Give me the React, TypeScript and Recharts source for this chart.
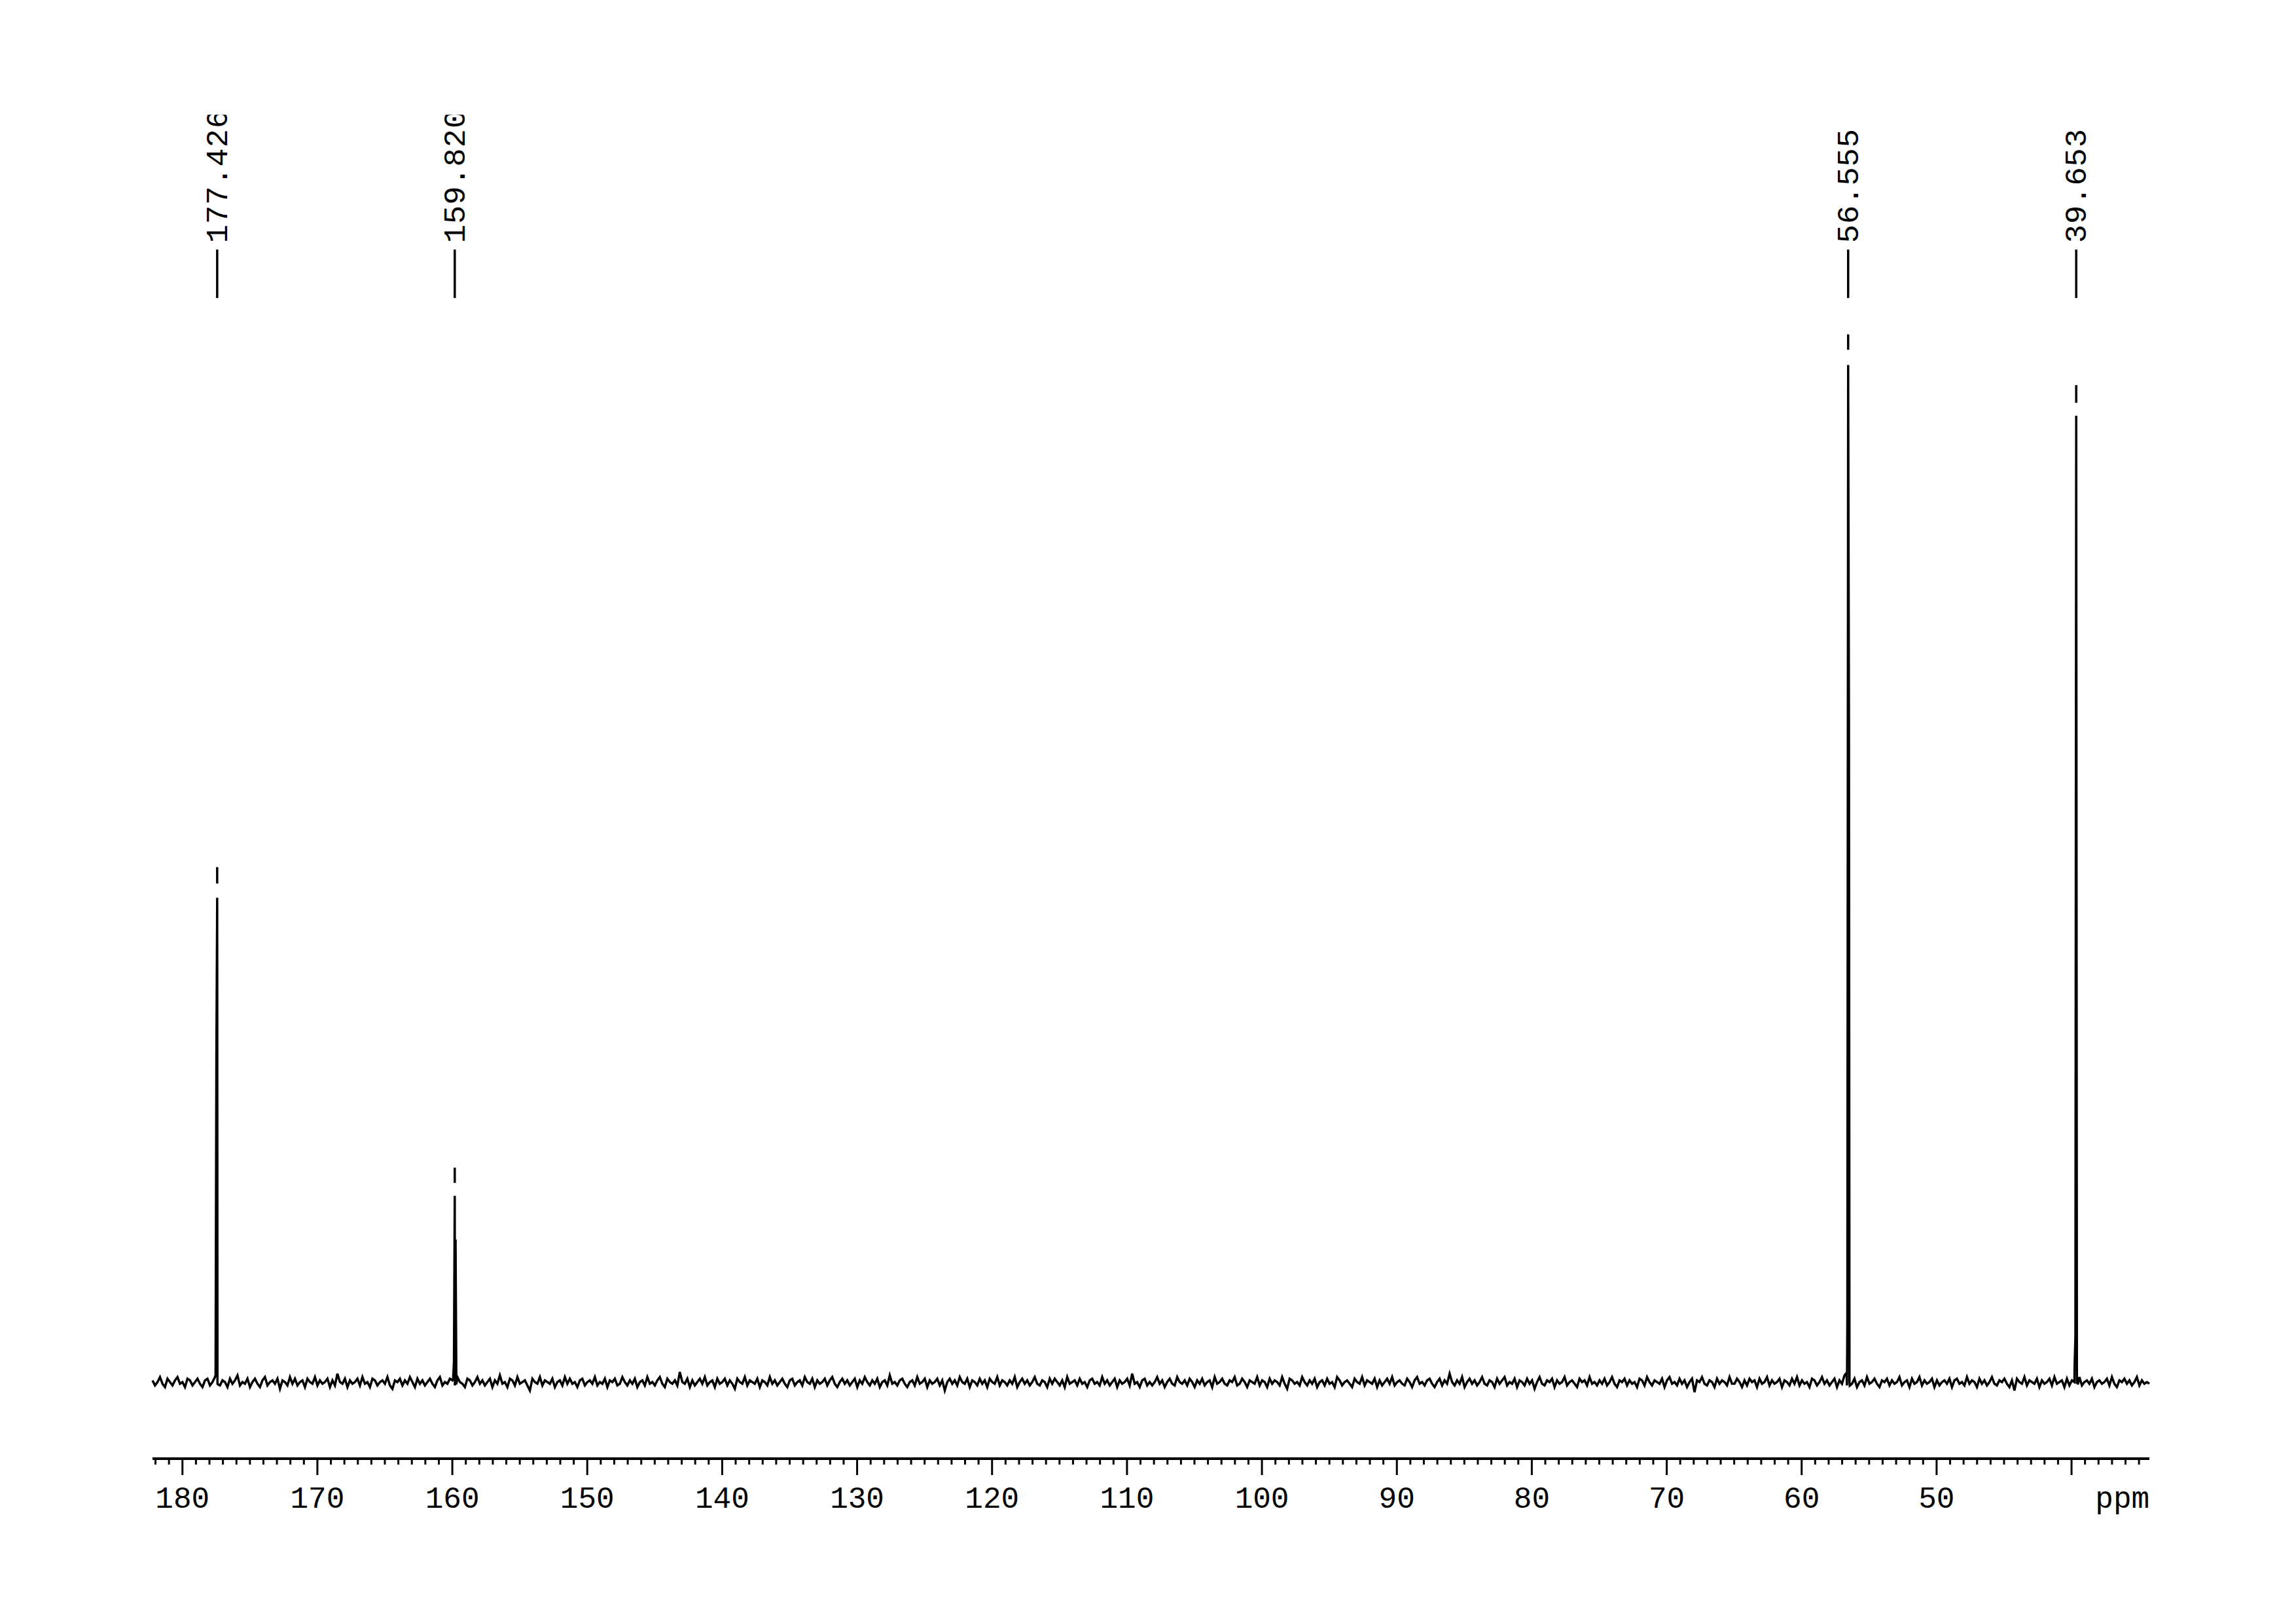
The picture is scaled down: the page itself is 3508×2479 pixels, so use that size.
import { ComposedChart, Line, Scatter, XAxis, YAxis } from 'recharts';

// picked peaks (ppm) and the numbers printed above them
const peakShifts = [177.426, 159.82, 56.555, 39.653];
const peakLabels = ['177.426', '159.820', '56.555', '39.653'];
// apex height of each peak (baseline = 0)
const peakTops = [41.1, 15.8, 86.3, 82.0];
// digital points next to the apex, higher-ppm side then lower-ppm side
const peakHighSide = [[0.6, 27.6], [0.3, 1.7], [0.8, 5.2], [1.3, 3.9]];
const peakLowSide = [[-0.2], [12.1, -0.2], [55.9, -0.3], [0.4, -0.2]];
// short plotter stroke left above every apex
const dashLow = [42.3, 16.9, 87.6, 83.1];
const dashHigh = [43.7, 18.2, 88.9, 84.6];
const labelTickTop = 96.1;

const xDomain = [34.23, 182.22];
const tickLabels = [180, 170, 160, 150, 140, 130, 120, 110, 100, 90, 80, 70, 60, 50];

// baseline noise, in steps of 1/7 unit, left (high ppm) to right
const noise = [
  1, -2, 0, 3, -1, -3, 2, 0, -2, 1, 3, -1, 0, -3, 2, 1, -2, 0, 2, -1,
  -3, 1, 2, -2, 0, 3, -1, -2, 1, 0, -3, 2, -1, 1, 4, -2, 0, -1, 2, -3,
  0, 2, -1, -3, 1, 3, -2, 0, 1, -1, 2, -4, 1, 0, -2, 3, -1, 2, -2, 0,
  1, -3, 2, 0, -1, 3, -2, 1, -1, 0, 2, -3, 1, -2, 5, 0, -1, 2, -3, 1,
  -1, 0, 2, -2, 3, -1, 0, -3, 2, 1, -2, 0, 1, -1, 3, -2, -4, 1, 0, 2,
  -2, 1, -1, 3, 0, -3, 2, -1, 1, -2, 0, 2, -1, -3, 1, 3, -2, 0, -1, 2,
  1, -2, 3, 0, -1, -3, 2, 1, -2, 0, 3, -1, 1, -2, 0, 2, -3, 1, -1, 4,
  -1, 0, -3, 2, 1, -2, 3, -1, 0, 1, -2, -5, 2, 0, -1, 3, -2, 1, 0, -1,
  2, -3, 0, 1, -2, 3, -1, 2, -1, 0, -3, 1, 2, -2, 0, 1, -1, 3, -2, 0,
  -1, 2, -3, 1, 0, 2, -2, -1, 3, 0, -2, 1, -1, 2, -3, 0, 1, -2, 3, -1,
  0, -2, 1, 3, -1, -3, 2, 0, -1, 1, -2, 6, 0, -1, 2, -3, 1, -2, 0, 2,
  -1, 3, -2, 0, 1, -3, 2, -1, 0, 2, -2, 1, -1, -4, 2, 0, -1, 3, -2, 1,
  0, -1, 2, -3, 1, 0, -2, 3, -1, 1, -2, 0, 2, -1, -3, 1, 2, -2, 0, 1,
  -2, 3, 0, -1, 2, -3, 1, -1, 0, 2, -2, 1, 3, -1, -3, 0, 2, -1, 1, -2,
  0, 2, -3, 1, -1, 3, 0, -2, 1, -1, 2, -3, 0, 1, -2, 4, -1, 0, -2, 1,
  2, -1, -3, 0, 1, -2, 3, -1, 0, 2, -3, 1, -1, 0, 2, -2, 1, -5, 0, 2,
  -1, 1, -2, 3, 0, -1, 2, -3, 1, 0, -2, 2, -1, 1, -3, 2, 0, -1, 3, -2,
  1, 0, -2, 1, -1, 3, -3, 0, 2, -1, 1, -2, 0, 3, -1, -2, 1, 0, -3, 2,
  -1, 2, 0, -2, 1, -3, 3, -1, 0, 1, -2, 2, -1, 0, -3, 1, 2, -1, 0, -2,
  3, -1, 1, -2, 0, 2, -3, 1, -1, 0, 2, -2, 5, -1, 0, -3, 1, 2, -2, 0,
  -2, 0, 3, -1, 1, -3, 0, 2, -1, -2, 3, 0, -1, 1, -2, 2, 0, -3, 1, -1,
  2, -2, 0, 1, -3, 3, -1, 0, 2, -1, -2, 1, 0, 3, -2, -1, 2, 0, -3, 1,
  0, -1, 3, -2, 1, 0, -3, 2, -1, 1, 0, -2, 3, -1, -4, 2, 1, -1, 0, -2,
  3, 0, -2, 1, -1, 2, -3, 0, 1, -2, 2, -1, 0, -3, 3, 1, -2, 0, 1, -1,
  -3, 2, 0, -1, 3, -2, 1, 0, -1, 2, -3, 1, -2, 0, 2, -1, 3, -2, 0, 1,
  -1, -2, 2, 0, -3, 1, 3, -1, 0, -2, 1, 2, -1, -3, 0, 2, -2, 1, -1, 5,
  0, -2, 1, -1, 3, -3, 0, 2, -1, 1, -2, 0, 3, -1, -2, 1, 0, -3, 2, -1,
  1, 3, -2, 0, -1, 2, -3, 1, 0, -2, 2, -1, 1, -4, 0, 3, -1, -2, 1, 0,
  2, -3, 1, -1, 0, 3, -2, 0, 1, -1, -3, 2, 0, 1, -2, 3, -1, 0, -2, 1,
  -1, 2, -2, 0, 3, -1, -3, 1, 0, 2, -2, 1, -1, 0, -3, 2, 1, -2, 3, 0,
  -2, 1, 0, -1, 2, -3, 1, 3, -1, 0, -2, 2, -1, 1, -3, 0, 2, -6, 1, 0,
  3, -1, -2, 1, 0, -3, 2, -1, 1, 0, -2, 3, -1, -1, 2, 0, -3, 1, -2, 2,
  0, 1, -3, 2, -1, 0, 3, -2, 1, -1, 0, 2, -3, 1, 0, -2, 2, -1, 3, -2,
  1, -1, 0, -3, 2, 1, -2, 0, 3, -1, 1, -2, 0, 2, -3, 1, -1, 4, -2, 0,
  -1, 2, -3, 0, 1, -2, 3, -1, 0, 2, -1, -3, 1, 0, 2, -2, 1, -1, 0, 3,
  -2, 0, 1, -3, 2, -1, 0, 3, -2, 1, -1, 0, 2, -3, 1, -2, 0, 1, -1, 2,
  -3, 1, 2, -1, 0, -2, 3, -1, 1, 0, -3, 2, -1, 1, -2, 0, 3, -1, -2, 1,
  0, 2, -1, -3, 1, -5, 2, 0, -1, 3, -2, 1, 0, -1, 2, -3, 1, -1, 0, 2,
  -2, 3, -1, 0, 1, -3, 2, -2, 1, 0, -1, 3, -2, 0, 1, -1, 2, -3, 0, 1,
  -1, 0, 2, -2, 3, -1, -3, 1, 0, 2, -1, 1, -2, 0, 3, -2, 1, -1, 0, -1,
];

const FONT = 'Liberation Mono';
const PT = 0.06; // ppm between digital points

const spectrum: { x: number; y: number }[] = [];
const step = (xDomain[1] - xDomain[0]) / (noise.length - 1);
noise.forEach((n, i) => spectrum.push({ x: xDomain[1] - i * step, y: n / 7 }));
peakShifts.forEach((p, k) => {
  const hi = peakHighSide[k];
  hi.forEach((v, j) => spectrum.push({ x: p + PT * (hi.length - j), y: v }));
  spectrum.push({ x: p, y: peakTops[k] });
  peakLowSide[k].forEach((v, j) => spectrum.push({ x: p - PT * (j + 1), y: v }));
});
spectrum.sort((a, b) => b.x - a.x);

const dashes: { x: number; y: number | null }[] = [];
peakShifts.forEach((p, k) => {
  dashes.push({ x: p, y: dashLow[k] }, { x: p, y: dashHigh[k] }, { x: p, y: null });
});

const labels = peakShifts.map((p, k) => ({ x: p, y: labelTickTop, label: peakLabels[k] }));

const ticks: number[] = [];
for (let t = 35; t <= 182; t++) ticks.push(t);

const PpmTick = ({ x, y, payload }: any) => {
  const v = payload.value;
  const major = v % 10 === 0;
  return (
    <g>
      <line x1={x} x2={x} y1={y} y2={y + (major ? 25 : 9)} stroke="#000" strokeWidth={3} />
      {tickLabels.includes(v) && (
        <text x={x} y={y + 75} textAnchor="middle" fontFamily={FONT} fontSize={46} fill="#000">
          {v}
        </text>
      )}
      {v === 35 && (
        <text x={x + 16} y={y + 75} textAnchor="end" fontFamily={FONT} fontSize={46} fill="#000">
          ppm
        </text>
      )}
    </g>
  );
};

// label text is cut off at the top edge of the plot, like the plotter output
const PeakLabel = ({ cx, cy, payload }: any) => {
  const id = 'lbl' + String(payload.label).replace('.', '_');
  return (
    <g>
      <defs>
        <clipPath id={id}>
          <rect x={cx - 60} y={cy - 206} width={120} height={400} />
        </clipPath>
      </defs>
      <line x1={cx} x2={cx} y1={cy} y2={cy + 74} stroke="#000" strokeWidth={3.5} />
      <g clipPath={`url(#${id})`}>
        <text
          transform={`translate(${cx + 15},${cy - 10}) rotate(-90)`}
          fontFamily={FONT}
          fontSize={47}
          letterSpacing={1}
          fill="#000"
        >
          {payload.label}
        </text>
      </g>
    </g>
  );
};

export default function App() {
  return (
    <div style={{ position: 'absolute', left: 0, top: 0, background: '#fff' }}>
      <ComposedChart
        width={3508}
        height={2479}
        data={spectrum}
        margin={{ top: 311, right: 224, bottom: 0, left: 233 }}
      >
        <XAxis
          type="number"
          dataKey="x"
          domain={xDomain}
          reversed
          ticks={ticks}
          interval={0}
          tickLine={false}
          tickSize={0}
          tickMargin={0}
          axisLine={{ stroke: '#000', strokeWidth: 4 }}
          tick={<PpmTick />}
          height={251}
        />
        <YAxis hide type="number" dataKey="y" domain={[-6.5, 100]} />
        <Line
          data={spectrum}
          dataKey="y"
          type="linear"
          stroke="#000"
          strokeWidth={3.5}
          dot={false}
          activeDot={false}
          isAnimationActive={false}
        />
        <Line
          data={dashes}
          dataKey="y"
          type="linear"
          stroke="#000"
          strokeWidth={3.5}
          dot={false}
          activeDot={false}
          connectNulls={false}
          isAnimationActive={false}
        />
        <Scatter data={labels} dataKey="y" shape={<PeakLabel />} isAnimationActive={false} />
      </ComposedChart>
    </div>
  );
}
